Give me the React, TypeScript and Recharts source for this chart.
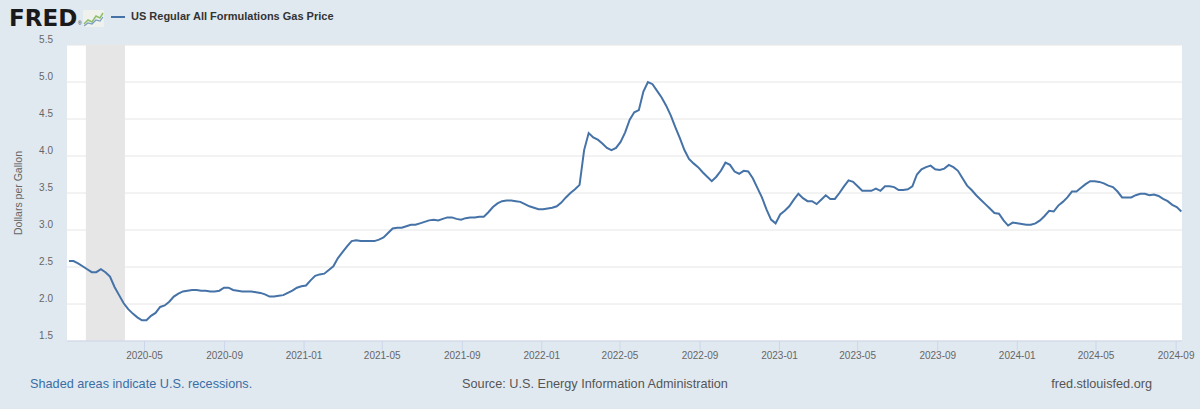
import React from 'react';
import { LineChart, Line, XAxis, YAxis, CartesianGrid, ReferenceArea } from 'recharts';

const seriesName = 'US Regular All Formulations Gas Price';
const yAxisTitle = 'Dollars per Gallon';

// weekly observations (Mondays), first one on this date
const firstWeek = '2020-01-06';

const prices2020 = [
  2.58, 2.58, 2.55, 2.51, 2.47, 2.43, 2.43, 2.47, 2.43, 2.37,
  2.23, 2.12, 2.01, 1.93, 1.87, 1.82, 1.78, 1.78, 1.84, 1.88,
  1.96, 1.98, 2.03, 2.10, 2.14, 2.17, 2.18, 2.19, 2.19, 2.18,
  2.18, 2.17, 2.17, 2.18, 2.22, 2.22, 2.19, 2.18, 2.17, 2.17,
  2.17, 2.16, 2.15, 2.13, 2.10, 2.10, 2.11, 2.12, 2.15, 2.18,
  2.22, 2.24,
];
const prices2021 = [
  2.25, 2.32, 2.38, 2.40, 2.41, 2.46, 2.51, 2.62, 2.70, 2.78,
  2.85, 2.86, 2.85, 2.85, 2.85, 2.85, 2.87, 2.90, 2.96, 3.02,
  3.03, 3.03, 3.05, 3.07, 3.07, 3.09, 3.11, 3.13, 3.14, 3.13,
  3.15, 3.17, 3.17, 3.15, 3.14, 3.16, 3.17, 3.17, 3.18, 3.18,
  3.24, 3.31, 3.36, 3.39, 3.40, 3.40, 3.39, 3.38, 3.35, 3.32,
  3.30, 3.28,
];
const prices2022 = [
  3.28, 3.29, 3.30, 3.32, 3.37, 3.44, 3.50, 3.55, 3.61, 4.08,
  4.31, 4.25, 4.22, 4.17, 4.11, 4.08, 4.11, 4.19, 4.32, 4.49,
  4.59, 4.62, 4.87, 5.00, 4.97, 4.88, 4.79, 4.68, 4.55, 4.39,
  4.24, 4.08, 3.96, 3.90, 3.85, 3.78, 3.72, 3.66, 3.72, 3.80,
  3.91, 3.88, 3.79, 3.76, 3.80, 3.79, 3.70, 3.57, 3.44, 3.28,
  3.14, 3.09,
];
const prices2023 = [
  3.21, 3.26, 3.32, 3.41, 3.49, 3.43, 3.39, 3.39, 3.35, 3.41,
  3.47, 3.42, 3.42, 3.50, 3.59, 3.67, 3.65, 3.59, 3.53, 3.53,
  3.53, 3.56, 3.53, 3.59, 3.59, 3.58, 3.54, 3.54, 3.55, 3.59,
  3.75, 3.82, 3.85, 3.87, 3.82, 3.81, 3.83, 3.88, 3.85, 3.80,
  3.70, 3.60, 3.54, 3.47, 3.41, 3.35, 3.29, 3.23, 3.22, 3.13,
  3.06, 3.10,
];
const prices2024 = [
  3.09, 3.08, 3.07, 3.07, 3.09, 3.13, 3.19, 3.26, 3.25, 3.33,
  3.38, 3.44, 3.52, 3.52, 3.57, 3.62, 3.66, 3.66, 3.65, 3.63,
  3.60, 3.58, 3.52, 3.44, 3.44, 3.44, 3.47, 3.49, 3.49, 3.47,
  3.48, 3.46, 3.42, 3.39, 3.34, 3.31, 3.25,
];

const yTicks = [1.5, 2.0, 2.5, 3.0, 3.5, 4.0, 4.5, 5.0, 5.5];
const xTickLabels = [
  '2020-05', '2020-09', '2021-01', '2021-05', '2021-09', '2022-01', '2022-05',
  '2022-09', '2023-01', '2023-05', '2023-09', '2024-01', '2024-05', '2024-09',
];
const recessionStart = '2020-02-01';
const recessionEnd = '2020-04-01';
const axisStart = '2020-01-03';
const axisEnd = '2024-09-10';

const DAY = 86400000;
const toTime = (s: string) => Date.parse(s + 'T00:00:00Z');

const allPrices = [...prices2020, ...prices2021, ...prices2022, ...prices2023, ...prices2024];
const data = allPrices.map((price, i) => ({ t: toTime(firstWeek) + i * 7 * DAY, price }));
const xTicks = xTickLabels.map((m) => toTime(m + '-01'));

const font = '"Liberation Sans", Arial, Helvetica, sans-serif';

const YTick = ({ y, payload }: any) => (
  <text x={53} y={y - 2} textAnchor="end" fontSize={10} fill="#666" fontFamily={font}>
    {Number(payload.value).toFixed(1)}
  </text>
);

const XTick = ({ x, payload }: any) => (
  <text x={x} y={359} textAnchor="middle" fontSize={10} fill="#666" fontFamily={font}>
    {new Date(payload.value).toISOString().slice(0, 7)}
  </text>
);

const FredIcon = () => (
  <svg width={21} height={17} style={{ position: 'absolute', left: 83, top: 10 }}>
    <rect x={0} y={0} width={21} height={17} rx={1} fill="#eef1ec" />
    <polyline points="1,14 5,10 9,12 13,6 17,8 20,3" fill="none" stroke="#8fbf6a" strokeWidth={1.5} />
    <polyline points="1,16 5,13 9,14 13,10 17,11 20,7" fill="none" stroke="#7a9cc6" strokeWidth={1.2} />
  </svg>
);

export default function App() {
  return (
    <div
      style={{
        position: 'absolute',
        left: 0,
        top: 0,
        width: 1200,
        height: 409,
        background: '#e1e9f0',
        fontFamily: font,
        overflow: 'hidden',
      }}
    >
      {/* header: logo + legend */}
      <div
        style={{
          position: 'absolute', left: 9, top: 7, fontSize: 23, fontWeight: 700,
          fontFamily: '"DejaVu Sans", sans-serif', color: '#1a1a1a', lineHeight: '23px',
        }}
      >
        FRED
      </div>
      <div style={{ position: 'absolute', left: 78, top: 21, fontSize: 5, lineHeight: '5px', color: '#333' }}>®</div>
      <FredIcon />
      <div style={{ position: 'absolute', left: 111, top: 16, width: 14, height: 2, background: '#4572a7' }} />
      <div style={{ position: 'absolute', left: 131, top: 10, fontSize: 11, fontWeight: 700, color: '#333' }}>
        {seriesName}
      </div>

      <div
        style={{
          position: 'absolute', left: -82, top: 186, width: 200, height: 14, lineHeight: '14px',
          textAlign: 'center', fontSize: 10.5, color: '#666', transform: 'rotate(-90deg)',
        }}
      >
        {yAxisTitle}
      </div>

      <div style={{ position: 'absolute', top: 0, left: 0 }}>
        <LineChart width={1200} height={409} data={data} margin={{ top: 45, right: 18, bottom: 0, left: 0 }}>
          <CartesianGrid vertical={false} stroke="#e6e6e6" fill="#ffffff" />
          <ReferenceArea
            x1={toTime(recessionStart)}
            x2={toTime(recessionEnd)}
            fill="#e6e6e6"
            fillOpacity={1}
            stroke="none"
          />
          <XAxis
            dataKey="t"
            type="number"
            scale="time"
            domain={[toTime(axisStart), toTime(axisEnd)]}
            ticks={xTicks}
            interval={0}
            height={68}
            axisLine={{ stroke: '#ccd6eb' }}
            tickLine={{ stroke: '#ccd6eb' }}
            tickSize={10}
            tick={<XTick />}
            allowDataOverflow
          />
          <YAxis
            type="number"
            domain={[1.5, 5.5]}
            ticks={yTicks}
            interval={0}
            width={67}
            axisLine={false}
            tickLine={false}
            tick={<YTick />}
            allowDataOverflow
          />
          <Line
            type="linear"
            dataKey="price"
            stroke="#4572a7"
            strokeWidth={2}
            dot={false}
            isAnimationActive={false}
          />
        </LineChart>
      </div>

      {/* footer */}
      <div style={{ position: 'absolute', left: 30, top: 377, fontSize: 12.7, color: '#3a6ea5' }}>
        Shaded areas indicate U.S. recessions.
      </div>
      <div style={{ position: 'absolute', left: 395, width: 400, textAlign: 'center', top: 377, fontSize: 12.7, color: '#555' }}>
        Source: U.S. Energy Information Administration
      </div>
      <div style={{ position: 'absolute', right: 48, top: 377, fontSize: 12.7, color: '#555' }}>
        fred.stlouisfed.org
      </div>
    </div>
  );
}
